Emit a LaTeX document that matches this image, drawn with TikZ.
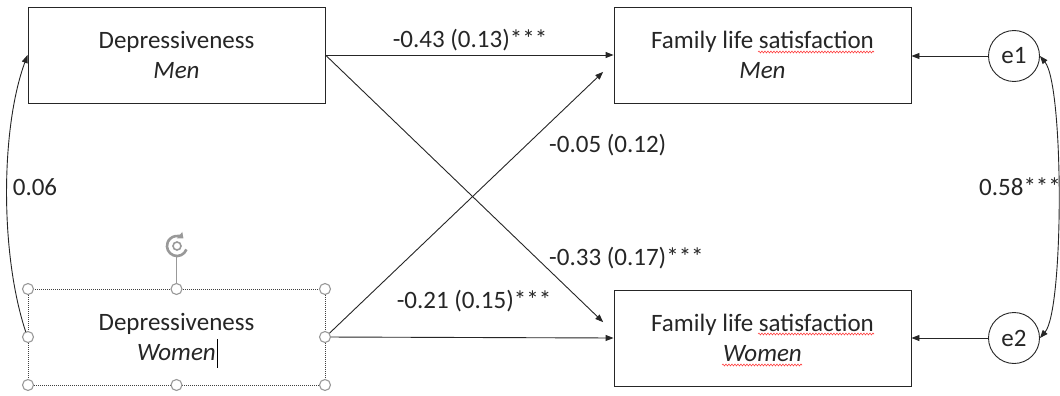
\documentclass[tikz,border=0pt]{standalone}
\usepackage{fontspec}
\setmainfont{Carlito}
\usetikzlibrary{arrows.meta,decorations.pathmorphing,calc}
\begin{document}
\begin{tikzpicture}[x=1pt,y=-1pt,
  font=\fontsize{25}{30}\selectfont,
  box/.style={draw=black!85, line width=0.9pt, minimum width=297pt, minimum height=96pt, align=center, inner sep=0pt, text=black!85},
  err/.style={draw=black!85, line width=0.9pt, circle, minimum size=51pt, inner sep=0pt, text=black!85},
  arr/.style={draw=black!85, line width=0.9pt, -{Triangle[length=8pt,width=6pt]}},
  cov/.style={draw=black!85, line width=0.9pt, {Triangle[length=8pt,width=6pt]}-{Triangle[length=8pt,width=6pt]}},
  lab/.style={text=black!85, inner sep=0pt},
  handle/.style={circle, draw=black!40, fill=white, line width=1.1pt, minimum size=11pt, inner sep=0pt},
  squig/.style={draw=red!75!white, line width=0.6pt, decorate, decoration={snake, amplitude=0.9pt, segment length=3pt}}
]
\useasboundingbox (0,0) rectangle (1060,396);
\fill[white] (0,0) rectangle (1060,396);

\node[box] (DM) at (176.5,55) {Depressiveness\\\textit{Men}};
\node[box, draw=black!75, line width=1pt, densely dotted] (DW) at (176.5,337) {Depressiveness\\\textit{Women}};
\node[box] (FM) at (762.5,55) {Family life satisfaction\\\textit{Men}};
\node[box] (FW) at (762.5,338) {Family life satisfaction\\\textit{Women}};

\node[err] (e1) at (1014,56) {e1};
\node[err] (e2) at (1014,338) {e2};

\coordinate (FMin) at (614,61.5);
\coordinate (FWin) at (614,332.6);

\draw[arr] (DM.east) -- (FM.west);
\draw[arr] (DW.east) -- (FW.west);
\draw[arr, shorten >=15pt] (DW.east) -- (FMin);
\draw[arr, shorten >=15pt] (DM.east) -- (FWin);
\draw[arr] (e1.west) -- (FM.east |- e1.west);
\draw[arr] (e2.west) -- (FW.east |- e2.west);

\draw[cov] (e1.east) .. controls (1064,85) and (1064,310) .. (e2.east);
\draw[arr] (DW.west) .. controls (0,260) and (0,130) .. (DM.west);

\node[lab] (l1) at (470,40) {-0.43 (0.13)***};
\node[lab, anchor=west] (l2) at (549,145) {-0.05 (0.12)};
\node[lab, anchor=west] (l3) at (549,258) {-0.33 (0.17)***};
\node[lab] (l4) at (474,301) {-0.21 (0.15)***};
\node[lab] (l5) at (35,187) {0.06};
\node[lab, anchor=west] (l6) at (979,187) {0.58***};

% spell-check underlines
\draw[squig] (758,52) -- (874,52);
\draw[squig] (758,334) -- (874,334);
\draw[squig] (722,365) -- (802,365);

% selection handles
\draw[black!40, line width=1pt] (176.5,284) -- (176.5,257);
\draw[black!40, line width=2.6pt, -{Triangle[length=5pt,width=8pt]}] ([shift={(-20:10pt)}]177,246) arc[start angle=-20, end angle=-310, radius=10pt];
\draw[black!40, line width=1.6pt] (177,246) circle[radius=4pt];
\foreach \hx in {28,176.5,325} {
  \node[handle] at (\hx,289) {};
  \node[handle] at (\hx,385) {};
}
\node[handle] at (28,337) {};
\node[handle] at (325,337) {};
\draw[black, line width=0.9pt] (217,339) -- (217,368);
\end{tikzpicture}
\end{document}
